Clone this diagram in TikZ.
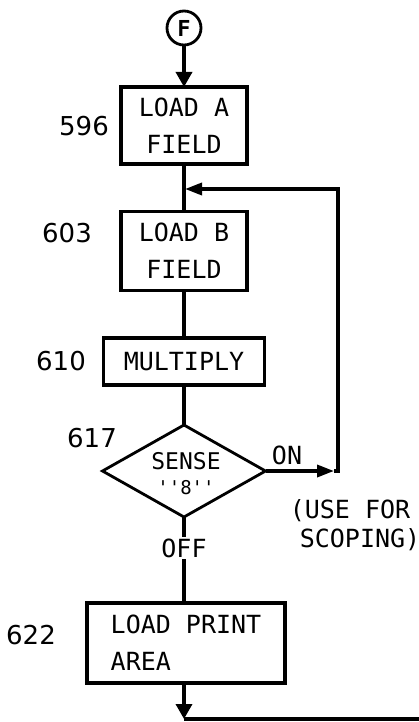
\documentclass[tikz,border=0pt]{standalone}
\usepackage{fontspec}
\setmainfont{DejaVu Sans}
\newfontfamily\boxfont{DejaVu Sans Mono}
\usetikzlibrary{arrows.meta,shapes.geometric}
\begin{document}
\begin{tikzpicture}[x=1pt,y=-1pt,
  line width=3.4pt,
  tipd/.style={-{Triangle[width=16pt,length=15pt]}},
  tips/.style={-{Triangle[width=12pt,length=17pt]}},
  procbox/.style={draw,line width=3.4pt,inner sep=0pt,outer sep=0pt,font=\boxfont\fontsize{25}{37}\selectfont},
  num/.style={font=\fontsize{26}{28}\selectfont,inner sep=0pt},
  txt/.style={font=\boxfont\fontsize{25}{30}\selectfont,inner sep=0pt}]
\useasboundingbox (0,0) rectangle (419,722);
\node[draw,circle,line width=2.8pt,minimum size=34pt,inner sep=0pt,font=\boxfont\bfseries\fontsize{22}{24}\selectfont] (f) at (184,28) {F};
\node[procbox,minimum width=126pt,minimum height=77pt,align=center] (b1) at (184,125.5) {LOAD A\\ FIELD};
\node[procbox,minimum width=126pt,minimum height=79pt,align=center] (b2) at (184,251) {LOAD B\\ FIELD};
\node[procbox,minimum width=161pt,minimum height=47pt] (b3) at (184,361.5) {MULTIPLY};
\node[draw,diamond,line width=2.8pt,minimum width=163pt,minimum height=92pt,inner sep=0pt,outer sep=0pt] (d) at (184,471) {};
\node[txt,font=\boxfont\fontsize{23}{24}\selectfont] (ds) at (186,461) {SENSE};
\node[txt,font=\boxfont\fontsize{19}{20}\selectfont] (d8) at (186,488) {''8''};
\node[procbox,minimum width=198pt,minimum height=80pt,align=left] (b4) at (186,643) {LOAD PRINT\\ AREA};
\node[num] (n596) at (84,126) {596};
\node[num] (n603) at (67,233) {603};
\node[num] (n610) at (61,361) {610};
\node[num] (n617) at (92,438) {617};
\node[num] (n622) at (31,635) {622};
\node[txt] (on) at (287,455) {ON};
\node[txt] (off) at (184,548) {OFF};
\node[txt] (use) at (350,511) {(USE FOR};
\node[txt] (scp) at (360,540) {SCOPING)};
\coordinate (j) at (184,189);
\coordinate (onA) at (334,471);
\coordinate (cr) at (338,471);
\coordinate (ct) at (338,189);
\coordinate (bot) at (184,719);
\coordinate (bend) at (419,719);
\draw[tipd] (f) -- (b1);
\draw (b1) -- (b2);
\draw (b2) -- (b3);
\draw (b3) -- (d.north);
\draw (d.south) -- (off);
\draw (off) -- (b4.north -| off);
\draw[tips] (d.east) -- (onA);
\draw (onA) -- (cr) -- (ct) -- (200,189);
\draw[tips,shorten >=1pt] (205,189) -- (j);
\draw[tipd] (b4.south -| bot) -- (bot);
\draw (bot) -- (bend);
\end{tikzpicture}
\end{document}
